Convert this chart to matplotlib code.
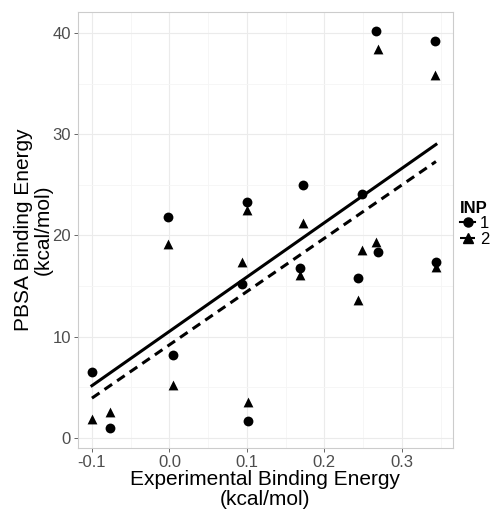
import numpy as np
import matplotlib.pyplot as plt

plt.rcParams['font.family'] = ['Liberation Sans', 'DejaVu Sans']

# experimental binding energy (kcal/mol), shared by both INP groups
exp_energy = [-0.100, -0.077, -0.002, 0.005, 0.094, 0.100, 0.101, 0.168,
              0.172, 0.243, 0.248, 0.267, 0.269, 0.343, 0.344]
# PBSA binding energy, INP 1 (circles)
pbsa_inp1 = [6.5, 1.0, 21.8, 8.2, 15.2, 23.3, 1.7, 16.8,
             25.0, 15.8, 24.1, 40.2, 18.4, 39.2, 17.4]
# PBSA binding energy, INP 2 (triangles)
pbsa_inp2 = [1.9, 2.6, 19.2, 5.2, 17.4, 22.5, 3.5, 16.1,
             21.2, 13.6, 18.6, 19.4, 38.4, 35.9, 16.9]

groups = ['1', '2']
markers = ['o', '^']
linestyles = ['-', (0, (3, 2))]

fig = plt.figure(figsize=(4.98, 5.12), dpi=100)
ax = fig.add_axes([0.1566, 0.125, 0.753, 0.852])

x = np.array(exp_energy)
handles = []
for lab, yv, mk, ls in zip(groups, [pbsa_inp1, pbsa_inp2], markers, linestyles):
    y = np.array(yv)
    ax.scatter(x, y, marker=mk, s=50, color='black', zorder=3, linewidths=0)
    # linear fit over the data range (like geom_smooth(method='lm'))
    slope, icpt = np.polyfit(x, y, 1)
    xs = np.array([x.min(), x.max()])
    ax.plot(xs, icpt + slope * xs, color='black', lw=2.2, ls=ls, zorder=2)
    h, = ax.plot([], [], color='black', marker=mk, ms=6.5, lw=1.5, ls=ls)
    handles.append(h)

ax.set_xticks([-0.1, 0.0, 0.1, 0.2, 0.3])
ax.set_xticklabels(['-0.1', '0.0', '0.1', '0.2', '0.3'])
ax.set_yticks([0, 10, 20, 30, 40])
ax.set_xticks([-0.05, 0.05, 0.15, 0.25, 0.35], minor=True)
ax.set_yticks([5, 15, 25, 35], minor=True)
ax.set_xlim(-0.118, 0.366)
ax.set_ylim(-1.0, 42.1)

ax.grid(True, which='major', color='#ebebeb', lw=0.8)
ax.grid(True, which='minor', color='#f5f5f5', lw=0.6)
ax.set_axisbelow(True)
for sp in ax.spines.values():
    sp.set_color('#cccccc')
    sp.set_linewidth(0.8)

ax.tick_params(axis='both', which='major', labelsize=12, colors='#4d4d4d',
               length=3, width=0.6, pad=2)
ax.tick_params(axis='both', which='minor', length=0)
for t in ax.get_xticklabels() + ax.get_yticklabels():
    t.set_color('#4d4d4d')

ax.set_xlabel('Experimental Binding Energy\n(kcal/mol)', fontsize=15,
              linespacing=1.05, labelpad=0)
ax.set_ylabel('PBSA Binding Energy\n(kcal/mol)', fontsize=15,
              linespacing=1.05, labelpad=0)

leg = fig.legend(handles, groups, title='INP', loc='upper left',
                 bbox_to_anchor=(0.924, 0.608), frameon=False, fontsize=12,
                 handlelength=0.9, handleheight=0.9, handletextpad=0.3,
                 labelspacing=0.0, borderaxespad=0, borderpad=0)
leg.get_title().set_fontweight('bold')
leg.get_title().set_fontsize(12)
leg._legend_box.align = 'left'

fig.savefig('out.png', dpi=100)
